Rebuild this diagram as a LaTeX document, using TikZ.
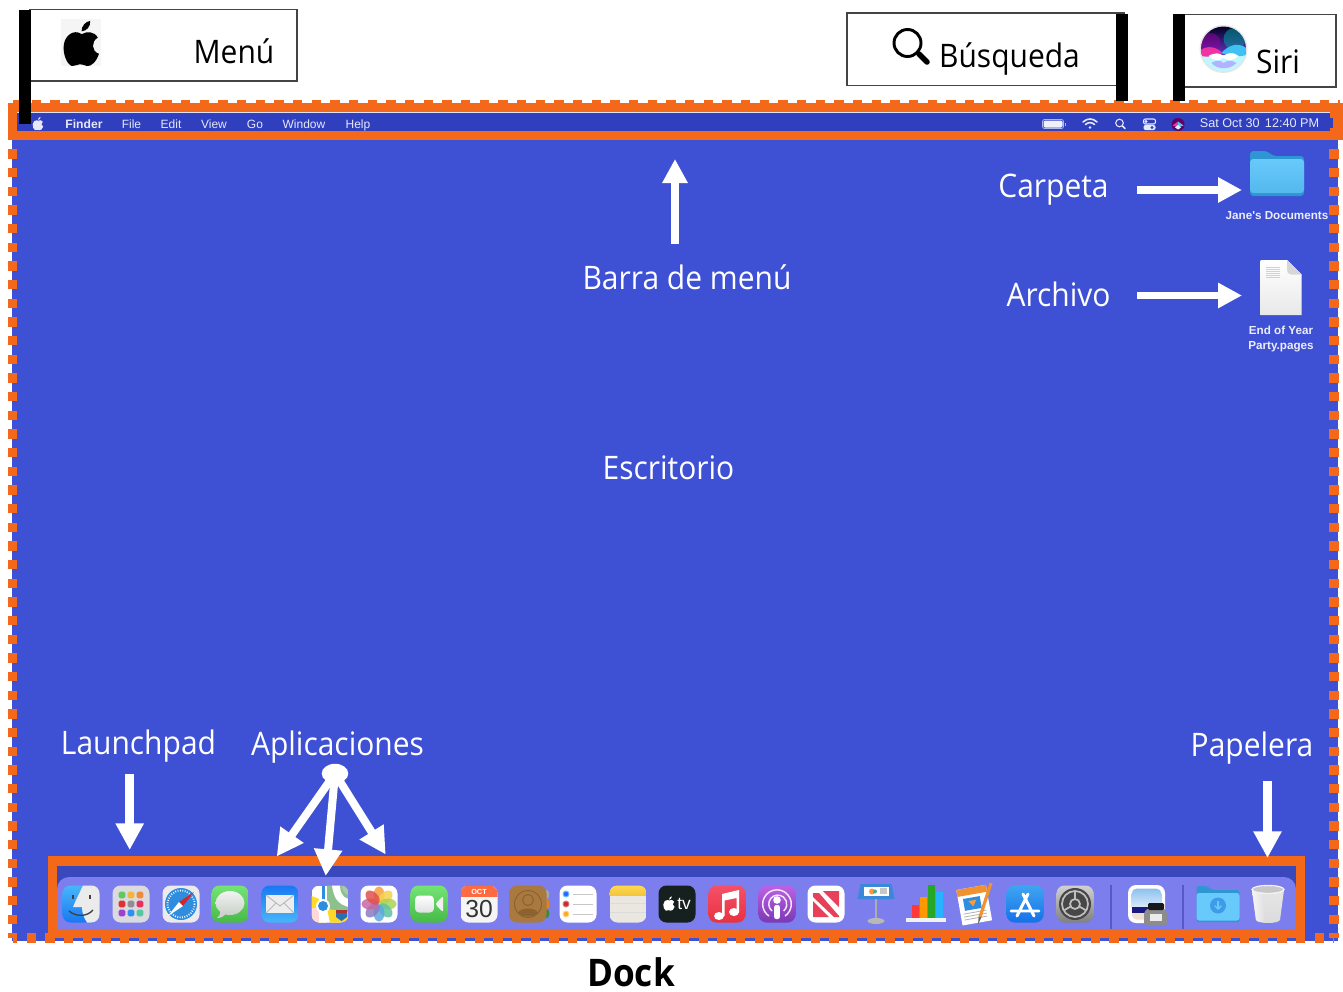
\documentclass[tikz,border=0pt]{standalone}
\usepackage{fontspec}
\usetikzlibrary{arrows.meta}
\newfontfamily\labfont[FakeStretch=0.925]{Open Sans}
\newfontfamily\macfont{Liberation Sans}
\definecolor{desk}{HTML}{3E50D4}
\definecolor{barblue}{HTML}{2F3FBE}
\definecolor{dockdark}{HTML}{3949BC}
\definecolor{dockbg}{HTML}{7B7EEC}
\definecolor{sepcol}{HTML}{5558C8}
\definecolor{orng}{HTML}{F4681A}
\definecolor{menutxt}{HTML}{E6E8F8}
\definecolor{boxline}{HTML}{444444}
\definecolor{fldtop}{HTML}{2E97D2}
\definecolor{fldhi}{HTML}{68CAFA}
\definecolor{fldlo}{HTML}{55B8EE}
\definecolor{grhi}{HTML}{74E574}
\definecolor{grlo}{HTML}{47B947}
\definecolor{safblue}{HTML}{2F8DE0}
\definecolor{mailhi}{HTML}{1A78F2}
\definecolor{maillo}{HTML}{47B6FA}
\definecolor{contbg}{HTML}{A9793F}
\definecolor{contln}{HTML}{8B6230}
\definecolor{musichi}{HTML}{F5506A}
\definecolor{musiclo}{HTML}{E8323F}
\definecolor{podhi}{HTML}{BC62E6}
\definecolor{podlo}{HTML}{7A38B4}
\definecolor{newsred}{HTML}{E8405A}
\definecolor{keyblue}{HTML}{3B87D8}
\definecolor{storehi}{HTML}{3EA6F2}
\definecolor{storelo}{HTML}{1670E8}
\definecolor{notehi}{HTML}{FFD84D}
\definecolor{notelo}{HTML}{F3C63C}
\definecolor{notebg}{HTML}{EAE7E0}
\definecolor{tvbg}{HTML}{16201F}
\definecolor{pagesor}{HTML}{F0922E}
\newcommand{\applepath}{(0.02,-0.62) .. controls (0.3,-0.8) and (0.75,-0.78) .. (0.93,-0.42) .. controls (0.55,-0.2) and (0.55,0.35) .. (1.0,0.5) .. controls (0.85,0.95) and (0.55,1.25) .. (0.3,1.2) .. controls (0.15,1.17) and (0.05,1.08) .. (-0.1,1.1) .. controls (-0.3,1.12) and (-0.4,1.22) .. (-0.55,1.2) .. controls (-0.85,1.1) and (-1.05,0.5) .. (-1.02,0.1) .. controls (-1.0,-0.45) and (-0.6,-0.8) .. (-0.2,-0.72) .. controls (-0.1,-0.7) and (-0.05,-0.65) .. (0.02,-0.62) -- cycle (0,-0.78) .. controls (0,-1.1) and (0.25,-1.35) .. (0.5,-1.38) .. controls (0.52,-1.05) and (0.3,-0.8) .. (0,-0.78) -- cycle}
\newcommand{\ibox}{(-18.5,-18.5) rectangle (18.5,18.5)}
\tikzset{
 lab/.style={text=white,font=\labfont\fontsize{24.3}{28}\selectfont,inner sep=0pt,anchor=base},
 blk/.style={text=black,font=\labfont\fontsize{24.3}{28}\selectfont,inner sep=0pt,anchor=base},
 mtxt/.style={text=menutxt,font=\macfont\fontsize{9}{11}\selectfont,inner sep=0pt,anchor=base},
 mbold/.style={mtxt,font=\macfont\bfseries\fontsize{9.1}{11}\selectfont},
 dlab/.style={text=white!90!desk,font=\macfont\bfseries\fontsize{8.75}{10}\selectfont,inner sep=0pt,anchor=base},
 callout/.style={draw=boxline,line width=1.1pt,fill=white},
 blackbar/.style={fill=black},
 whitearrow/.style={draw=white,line width=5.6pt,-{Triangle[length=18pt,width=18pt]}},
 bigarrow/.style={draw=white,line width=6.7pt,-{Triangle[length=20pt,width=20pt]}},
 apparrow/.style={draw=white,line width=6pt,-{Triangle[length=20pt,width=20pt]}},
 orngframe/.style={draw=orng,line width=7pt},
 dashside/.style={draw=orng,line width=7pt,dash pattern=on 7pt off 7pt},
 ir/.style={rounded corners=6pt},
}
\begin{document}
\begin{tikzpicture}[x=0.75pt,y=-0.75pt]
\useasboundingbox (0,0) rectangle (1343,992);
\fill[white] (0,0) rectangle (1343,992);
% desktop
\fill[desk] (12,104) rectangle (1337.5,941);
% dock
\fill[dockdark] (57,866) rectangle (1296,929);
\fill[dockbg,rounded corners=9pt] (57,877) -- (1296,877) -- (1296,929) -- (57,929) -- cycle;
\fill[dockbg] (57,890) rectangle (1296,929);
\foreach \sx in {1111,1183} \draw[sepcol,line width=.8pt] (\sx,885) -- (\sx,929);
% dashed frame
\draw[dashside,dash phase=3.5pt] (12.5,938) -- (1334,938);
\draw[dashside,dash phase=3.5pt] (12.5,938) -- (12.5,140);
\draw[dashside,dash phase=3.5pt] (1334,938) -- (1334,140);
\draw[dashside] (13,104.5) -- (1340,104.5);
% menu bar frame
\fill[orng] (8,103) rectangle (1343,140);
\fill[barblue] (17,112) rectangle (1330,131);
\fill[barblue] (1330,118) rectangle (1333,128.3);
\draw[white!85!barblue,line width=.6pt] (17,112.4) -- (1330,112.4);
\draw[orngframe] (52.7,861) rectangle (1300.7,933.5);
% callout boxes
\draw[callout] (30,9.5) rectangle (297,81);
\draw[callout] (847,13) rectangle (1124,85.5);
\draw[callout] (1180,14.5) rectangle (1336,87);
\fill[blackbar] (19,9.5) rectangle (30.7,124);
\fill[blackbar] (1115.7,14) rectangle (1127.5,101);
\fill[blackbar] (1172.7,14) rectangle (1185,101);
% callout content
\fill[black!4] (61,19) rectangle (101,66);
\begin{scope}[shift={(81.5,45)},scale=17.5]\fill[black] \applepath;\end{scope}
\node[blk] (menuLabel) at (234,63) {Menú};
\draw[black,line width=2.2pt] (907.5,43) circle (13.5);
\draw[black,line width=4.2pt,line cap=round] (919,54) -- (927,62);
\node[blk] (searchLabel) at (1009.5,67) {Búsqueda};
\begin{scope}[shift={(1223.5,49)}]
 \fill[black!10] (0,0) circle (24);
 \clip (0,0) circle (22.5);
 \shade[top color=black!85!blue,bottom color=violet!55!blue!80!white] (-23,-23) rectangle (23,6);
 \fill[teal!75!cyan,opacity=.55] (11,-10) circle (11);
 \fill[violet!80!magenta,opacity=.5] (-13,-6) circle (10);
 \fill[blue!15!cyan!25!white] (-23,6) rectangle (23,23);
 \fill[magenta!80!white] (-23,1) .. controls (-15,-4) and (-7,-2) .. (-1,4) .. controls (-8,9) and (-16,8) .. (-23,7) -- cycle;
 \fill[cyan!75!white] (23,-1) .. controls (14,-7) and (5,-4) .. (-2,4) .. controls (6,8) and (15,8) .. (23,6) -- cycle;
 \fill[white] (-15,7) .. controls (-8,3) and (-4,4) .. (0,7) .. controls (5,3) and (10,3) .. (15,7) .. controls (10,12) and (5,12) .. (0,9) .. controls (-4,12) and (-10,12) .. (-15,7) -- cycle;
 \fill[blue!30!white] (-12,14) .. controls (-6,10) and (-2,12) .. (0,14) .. controls (4,11) and (8,11) .. (13,14) .. controls (6,21) and (-6,21) .. (-12,14) -- cycle;
\end{scope}
\node[blk] (siriLabel) at (1278,73) {Siri};
% menu bar content
\begin{scope}[shift={(38,124)},scale=5.2]\fill[menutxt] \applepath;\end{scope}
\node[mbold] (mFinder) at (84,128.3) {Finder};
\node[mtxt] (mFile) at (131.5,128.3) {File};
\node[mtxt] (mEdit) at (171,128.3) {Edit};
\node[mtxt] (mView) at (214,128.3) {View};
\node[mtxt] (mGo) at (255,128.3) {Go};
\node[mtxt] (mWindow) at (304,128.3) {Window};
\node[mtxt] (mHelp) at (358,128.3) {Help};
\node[mtxt,font=\macfont\fontsize{9.5}{11}\selectfont] (mClock) at (1259.5,127.5) {Sat Oct 30\hspace{4pt}12:40 PM};
\draw[menutxt!70!barblue,line width=.6pt,rounded corners=1.5pt] (1042.5,119.5) rectangle (1063.5,128.5);
\fill[white!92!barblue,rounded corners=1pt] (1043.5,120.5) rectangle (1062.5,127.5);
\fill[white!60!barblue] (1064.5,122.5) rectangle (1065.5,125.5);
\begin{scope}[menutxt,line cap=round]
 \draw[line width=1.2pt] (1083,122) .. controls (1087,118) and (1093,118) .. (1097,122);
 \draw[line width=1.2pt] (1085.5,124.5) .. controls (1088,122) and (1092,122) .. (1094.5,124.5);
 \fill (1090,127.5) circle (1.4);
 \draw[line width=.8pt] (1119.5,123) circle (3.8);
 \draw[line width=1.1pt] (1122.3,125.8) -- (1125,128.5);
\end{scope}
\draw[menutxt,line width=.8pt,rounded corners=1.5pt] (1143.5,119) rectangle (1155.5,124);
\fill[menutxt,rounded corners=1.5pt] (1143.5,125) rectangle (1155.5,130);
\fill[barblue] (1152,127.5) circle (1.6);
\fill[menutxt] (1146,121.5) circle (1.7);
\begin{scope}[shift={(1178,124.5)}]
 \fill[violet!75!black] (0,0) circle (6.5);
 \fill[magenta!80!white] (-5.5,1) -- (0,-3) -- (0,3) -- cycle;
 \fill[cyan!70!white] (5.5,1) -- (0,-3) -- (0,3) -- cycle;
 \fill[white!85!cyan] (-3,3) -- (0,0.5) -- (3,3) -- (0,5) -- cycle;
\end{scope}
% folder
\begin{scope}[shift={(1277,173)}]
 \fill[fldtop,rounded corners=2.5pt] (-27,-22) -- (-10,-22) -- (-4,-17) -- (27,-17) -- (27,23) -- (-27,23) -- cycle;
 \shade[top color=fldhi,bottom color=fldlo,rounded corners=2.5pt] (-27,-14) rectangle (27,20);
\end{scope}
\node[dlab] (folderLabel) at (1277,219.5) {Jane's Documents};
% file
\begin{scope}[shift={(1281,287.5)}]
 \shade[top color=white,bottom color=black!9] (-20.5,-27.5) -- (6,-27.5) -- (20.5,-13) -- (20.5,27.5) -- (-20.5,27.5) -- cycle;
 \fill[black!16] (6,-27.5) -- (20.5,-13) -- (10,-13) .. controls (7,-13) and (6,-15) .. (6,-18) -- cycle;
 \foreach \fy in {-20,-18,-16,-14,-12,-10} \draw[black!18,line width=.7pt] (-15,\fy) -- (-1,\fy);
\end{scope}
\node[dlab] (fileLabelA) at (1281,334.5) {End of Year};
\node[dlab] (fileLabelB) at (1281,349.5) {Party.pages};
% desktop labels
\node[lab] (carpetaLabel) at (1053.5,197) {Carpeta};
\node[lab] (archivoLabel) at (1058.5,306) {Archivo};
\node[lab] (barraLabel) at (687,289.5) {Barra de menú};
\node[lab] (escritorioLabel) at (668.5,479.5) {Escritorio};
\node[lab] (launchLabel) at (138.5,754.5) {Launchpad};
\node[lab] (aplicLabel) at (337.5,755) {Aplicaciones};
\node[lab] (papeleraLabel) at (1252,756) {Papelera};
\node[blk,font=\labfont\bfseries\fontsize{28.5}{32}\selectfont] (dockLabel) at (631,986) {Dock};
% ---- dock icons ----
% finder
\begin{scope}[shift={(81,904)}]
 \clip[ir] \ibox;
 \shade[top color=maillo,bottom color=mailhi] \ibox;
 \fill[black!8] (2,-18.5) .. controls (-2,-10) and (-6,-2) .. (-8,3) -- (1,3) .. controls (1,9) and (3,14) .. (6,18.5) -- (18.5,18.5) -- (18.5,-18.5) -- cycle;
 \draw[black!75,line width=1pt] (-8,-9) -- (-8,-5) (9,-9) -- (9,-5);
 \draw[black!75,line width=1pt] (-12,7) .. controls (-5,13) and (6,13) .. (12,6);
\end{scope}
% launchpad
\begin{scope}[shift={(131,904)}]
 \fill[blue!10!black!14!white,ir] \ibox;
 \foreach \lx/\ly/\lc in {-9/-9/5FC85F,0/-9/F2B53A,9/-9/EE8A3A,-9/0/E03030,0/0/8E8E93,9/0/E83060,-9/9/A040D0,0/9/2E90F0,9/9/55C8A0} {
  \definecolor{lpc}{HTML}{\lc}
  \fill[lpc,rounded corners=1.2pt] (\lx-3.4,\ly-3.4) rectangle (\lx+3.4,\ly+3.4);
 }
\end{scope}
% safari
\begin{scope}[shift={(181,904)}]
 \fill[black!8,ir] \ibox;
 \fill[safblue] (0,0) circle (16);
 \draw[white,line width=1.4pt,dash pattern=on .6pt off 1.2pt] (0,0) circle (13.5);
 \fill[red!80!black!85!white] (-2,-2) -- (13,-12) -- (2,2) -- cycle;
 \fill[white] (-2,-2) -- (-13,12) -- (2,2) -- cycle;
\end{scope}
% messages
\begin{scope}[shift={(230,904)}]
 \clip[ir] \ibox;
 \shade[top color=grhi,bottom color=grlo] \ibox;
 \shade[top color=black!5,bottom color=green!18!black!22!white] (0,-1) ellipse (14.5 and 12);
 \fill[black!18] (-10,7) .. controls (-9,11) and (-12,13) .. (-13,14) .. controls (-9,14) and (-6,12) .. (-4,10) -- cycle;
\end{scope}
% mail
\begin{scope}[shift={(280,904)}]
 \clip[ir] \ibox;
 \shade[top color=mailhi,bottom color=maillo] \ibox;
 \fill[black!7] (-14,-9) rectangle (14,9);
 \draw[black!28,line width=.7pt] (-14,-9) -- (0,2) -- (14,-9) (-14,9) -- (-4,-1) (14,9) -- (4,-1);
\end{scope}
% maps
\begin{scope}[shift={(330,904)}]
 \clip[ir] \ibox;
 \fill[white] \ibox;
 \fill[green!45!black!45!white] (18.5,-18.5) -- (18.5,9) -- (-3,5) -- (-3,-18.5) -- cycle;
 \fill[white] (2,-18.5) .. controls (4,-5) and (8,0) .. (18.5,3) -- (18.5,-5) .. controls (12,-7) and (10,-12) .. (10,-18.5) -- cycle;
 \fill[green!40!black!35!white] (12,-18.5) .. controls (12,-13) and (15,-10) .. (18.5,-9) -- (18.5,-18.5) -- cycle;
 \fill[yellow!75!orange!85!white] (-18.5,-8) -- (-8,-4) -- (-6,18.5) -- (-18.5,18.5) -- cycle;
 \fill[pink!60!white] (-18.5,4) -- (-10,4) -- (-10,18.5) -- (-18.5,18.5) -- cycle;
 \fill[yellow!70!orange!85!white] (-3,5) -- (18.5,8) -- (18.5,18.5) -- (0,18.5) -- cycle;
 \fill[white] (-11,-18.5) rectangle (-3,18.5);
 \fill[safblue] (-8.5,-18.5) rectangle (-5.5,2);
 \fill[white] (-7,2) circle (7);
 \fill[safblue] (-7,2) circle (5);
 \fill[safblue!80!black] (6,6) -- (17,6) -- (17,13) -- (11.5,17) -- (6,13) -- cycle;
 \fill[red!60!black!80!white] (6,6) rectangle (17,8.5);
\end{scope}
% photos
\begin{scope}[shift={(379,904)}]
 \fill[white,ir] \ibox;
 \foreach \pa/\pc in {0/F5A13C,315/F8D14A,270/A8D457,225/5FC3A0,180/5FA8DE,135/8C7CC0,90/C768A8,45/E0524E} {
  \definecolor{ptl}{HTML}{\pc}
  \fill[ptl,opacity=.85,rotate=\pa] (0,-9) ellipse (5.5 and 8.5);
 }
\end{scope}
% facetime
\begin{scope}[shift={(429,904)}]
 \clip[ir] \ibox;
 \shade[top color=grhi,bottom color=grlo] \ibox;
 \shade[top color=white,bottom color=black!12,rounded corners=3pt] (-14,-8.5) rectangle (5,8.5);
 \fill[black!6,rounded corners=1pt] (7,-1) -- (14,-8) -- (14,8) -- (7,1) -- cycle;
\end{scope}
% calendar
\begin{scope}[shift={(479,904)}]
 \clip[ir] \ibox;
 \fill[black!4] \ibox;
 \fill[red!55!orange!75!white] (-18.5,-18.5) rectangle (18.5,-7);
 \node[inner sep=0pt,text=white,font=\macfont\bfseries\fontsize{5.5}{6}\selectfont] (calMonth) at (0,-12.5) {OCT};
 \node[inner sep=0pt,text=black!80,font=\macfont\fontsize{18.5}{20}\selectfont] (calDay) at (0,5) {30};
\end{scope}
% contacts
\begin{scope}[shift={(528,904)}]
 \fill[black!35,rounded corners=2pt] (14,-14) rectangle (21,-5);
 \fill[orange!70!brown,rounded corners=2pt] (14,-5) rectangle (21,5);
 \fill[green!45!black!80!white,rounded corners=2pt] (14,5) rectangle (21,14);
 \fill[contbg,ir] (-19,-18.5) rectangle (18.5,18.5);
 \draw[contln,line width=.7pt] (0,0) circle (13.5);
 \draw[contln,line width=.8pt] (0,-4) circle (5.5);
 \fill[contln] (-10,9) .. controls (-8,3) and (8,3) .. (10,9) .. controls (5,13.5) and (-5,13.5) .. (-10,9) -- cycle;
\end{scope}
% reminders
\begin{scope}[shift={(578,904)}]
 \fill[white,ir] \ibox;
 \foreach \ry/\rc in {-10/blue!70!cyan,0/red!80!black,10/orange!80!yellow} {
  \fill[white!60!\rc] (-12,\ry) circle (3.5);
  \fill[\rc!85!white] (-12,\ry) circle (2.2);
  \draw[black!22,line width=.7pt] (-5,\ry) -- (15,\ry);
 }
\end{scope}
% notes
\begin{scope}[shift={(628,904)}]
 \clip[ir] \ibox;
 \fill[notebg] \ibox;
 \shade[top color=notehi,bottom color=notelo] (-18.5,-18.5) rectangle (18.5,-9);
 \foreach \ny in {-1,8} \draw[black!14,line width=.6pt] (-18.5,\ny) -- (18.5,\ny);
\end{scope}
% apple tv
\begin{scope}[shift={(677,904)}]
 \fill[tvbg,ir] \ibox;
 \begin{scope}[shift={(-8,0)},scale=5.6]\fill[white] \applepath;\end{scope}
 \node[inner sep=0pt,text=white,font=\macfont\fontsize{13}{14}\selectfont] (tvLabel) at (7,-0.5) {tv};
\end{scope}
% music
\begin{scope}[shift={(727,904)}]
 \clip[ir] \ibox;
 \shade[top color=musichi,bottom color=musiclo] \ibox;
 \fill[white] (-5,-10) -- (12,-14) -- (12,8) -- (9.5,8) -- (9.5,-6) -- (-2.5,-3.5) -- (-2.5,12) -- (-5,12) -- cycle;
 \fill[white] (-8,12) ellipse (5 and 4);
 \fill[white] (7,8) ellipse (5 and 4);
\end{scope}
% podcasts
\begin{scope}[shift={(777,904)}]
 \clip[ir] \ibox;
 \shade[top color=podhi,bottom color=podlo] \ibox;
 \draw[white!85!podhi,line width=1.1pt] (-8,12) arc (124:416:14.3);
 \draw[white!85!podhi,line width=1.1pt] (-5,7) arc (130:410:9);
 \fill[white] (0,-4) circle (3.8);
 \fill[white,rounded corners=1.5pt] (-2.8,1) rectangle (2.8,15);
\end{scope}
% news
\begin{scope}[shift={(826,904)}]
 \fill[white,ir] \ibox;
 \fill[newsred] (-13,-11) -- (-7,-11) -- (13,12) -- (13,13) -- (8,13) -- (-13,-7) -- cycle;
 \fill[newsred] (-13,-3) -- (3,13) -- (-13,13) -- cycle;
 \fill[newsred] (-3,-13) -- (13,-13) -- (13,3) -- cycle;
\end{scope}
% keynote
\begin{scope}[shift={(876,904)}]
 \fill[black!32] (-1.2,-5) rectangle (1.2,16);
 \fill[black!28] (0,17) ellipse (8.5 and 3);
 \fill[keyblue] (-18.5,-5) -- (-15.5,-20) -- (15.5,-20) -- (18.5,-5) -- cycle;
 \fill[white] (-12.5,-17) rectangle (12.5,-8);
 \fill[orange!80!white] (-4,-12.5) circle (3);
 \fill[teal!70!white] (-1,-12.5) circle (2);
 \fill[black!22] (4,-16) rectangle (11,-10);
\end{scope}
% numbers
\begin{scope}[shift={(926,904)}]
 \fill[black!5] (-20,14) rectangle (20,18);
 \fill[red!70!pink] (-14,1) rectangle (-7,14);
 \fill[orange!80!yellow] (-6,-7) rectangle (1,14);
 \fill[green!60!black!85!white] (2,-19) rectangle (9,14);
 \fill[blue!35!cyan!85!white] (10,-12) rectangle (17,14);
\end{scope}
% pages
\begin{scope}[shift={(975,904)}]
 \begin{scope}[rotate=10,shift={(-1,1)}]
  \fill[white] (-15,-18) rectangle (15,18);
  \fill[pagesor] (-15,-18) rectangle (15,-11);
  \fill[safblue] (-10,-8) rectangle (7,4);
  \fill[orange!80!white] (-5,-5) -- (3,-5) -- (-1,1) -- cycle;
  \foreach \py in {7,10,13} \draw[black!30,line width=.6pt] (-12,\py) -- (11,\py);
 \end{scope}
 \draw[pagesor,line width=2.4pt] (16,-21) -- (5,13);
 \fill[black!60] (6.3,13.5) -- (3.7,12.6) -- (3,20.5) -- cycle;
\end{scope}
% app store
\begin{scope}[shift={(1025,904)}]
 \clip[ir] \ibox;
 \shade[top color=storehi,bottom color=storelo] \ibox;
 \draw[white,line width=2.2pt,line cap=round] (-8,12) -- (3,-10) (9,12) -- (-2,-10) (-14,7) -- (14,7);
\end{scope}
% settings
\begin{scope}[shift={(1075,904)}]
 \clip[ir] \ibox;
 \shade[top color=black!18,bottom color=black!50] \ibox;
 \fill[black!72] (0,0) circle (16);
 \draw[black!25,line width=1.3pt] (0,0) circle (13);
 \draw[black!25,line width=1.3pt] (0,0) circle (5);
 \draw[black!25,line width=1.3pt] (0,-5) -- (0,-13) (4.3,2.5) -- (11.3,6.5) (-4.3,2.5) -- (-11.3,6.5);
\end{scope}
% preview
\begin{scope}[shift={(1147,904)}]
 \fill[white,rounded corners=6pt] (-19,-19) rectangle (18,19);
 \begin{scope}
  \clip[rounded corners=4pt] (-15.5,-15.5) rectangle (14.5,15.5);
  \shade[top color=safblue!55!white,bottom color=safblue!18!white] (-15.5,-15.5) rectangle (14.5,3);
  \fill[blue!45!black!90!white] (-15.5,3) rectangle (14.5,9);
  \fill[brown!25!white] (-15.5,9) rectangle (14.5,15.5);
 \end{scope}
 \fill[black!45,rounded corners=2pt] (-3,8) -- (1,4) -- (17,4) -- (20,8) -- (20,21) -- (-3,21) -- cycle;
 \fill[black!90,rounded corners=1pt] (1,-1) rectangle (17,6);
 \fill[black!8] (3,10) rectangle (15,17);
\end{scope}
% downloads
\begin{scope}[shift={(1218,904)}]
 \fill[fldtop,rounded corners=2pt] (-21.5,-18) -- (-11,-18) -- (-6,-14) -- (21.5,-14) -- (21.5,18) -- (-21.5,18) -- cycle;
 \fill[fldhi,rounded corners=2pt] (-21.5,-11) rectangle (21.5,16.5);
 \fill[safblue!75!fldhi] (0,1.5) circle (8);
 \draw[fldhi,line width=1pt,-{Straight Barb[length=2.5pt,width=5pt]}] (0,-3) -- (0,6);
\end{scope}
% trash
\begin{scope}[shift={(1268,904)}]
 \shade[top color=black!10,bottom color=black!14] (-16,-14) -- (16,-14) -- (12,16) .. controls (10,20) and (-10,20) .. (-12,16) -- cycle;
 \shade[left color=black!4,right color=black!12] (-16,-14) -- (-4,-14) -- (-4,18) .. controls (-8,18) and (-11,18) .. (-12,16) -- cycle;
 \fill[black!22] (0,-14.5) ellipse (15 and 3.4);
 \draw[black!5,line width=1pt] (0,-14.5) ellipse (16 and 4);
\end{scope}
% arrows
\coordinate (barraTail) at (675,243.5);
\coordinate (barraTip) at (675,159);
\draw[whitearrow] (barraTail) -- (barraTip);
\coordinate (carpetaTail) at (1137,190);
\coordinate (carpetaTip) at (1242,190);
\draw[whitearrow] (carpetaTail) -- (carpetaTip);
\coordinate (archivoTail) at (1137,295.5);
\coordinate (archivoTip) at (1242,295.5);
\draw[whitearrow] (archivoTail) -- (archivoTip);
\coordinate (launchTail) at (129.7,774);
\coordinate (launchTip) at (129.7,850);
\draw[bigarrow] (launchTail) -- (launchTip);
\coordinate (papeleraTail) at (1267.5,781);
\coordinate (papeleraTip) at (1267.5,858);
\draw[bigarrow] (papeleraTail) -- (papeleraTip);
\coordinate (aplicHub) at (335,773.5);
\coordinate (aplicTipA) at (276.7,856.5);
\coordinate (aplicTipB) at (325.7,876);
\coordinate (aplicTipC) at (385.7,854.5);
\draw[apparrow] (aplicHub) -- (aplicTipA);
\draw[apparrow] (aplicHub) -- (aplicTipB);
\draw[apparrow] (aplicHub) -- (aplicTipC);
\fill[white] (aplicHub) ellipse (13.3 and 9.7);
\end{tikzpicture}
\end{document}
